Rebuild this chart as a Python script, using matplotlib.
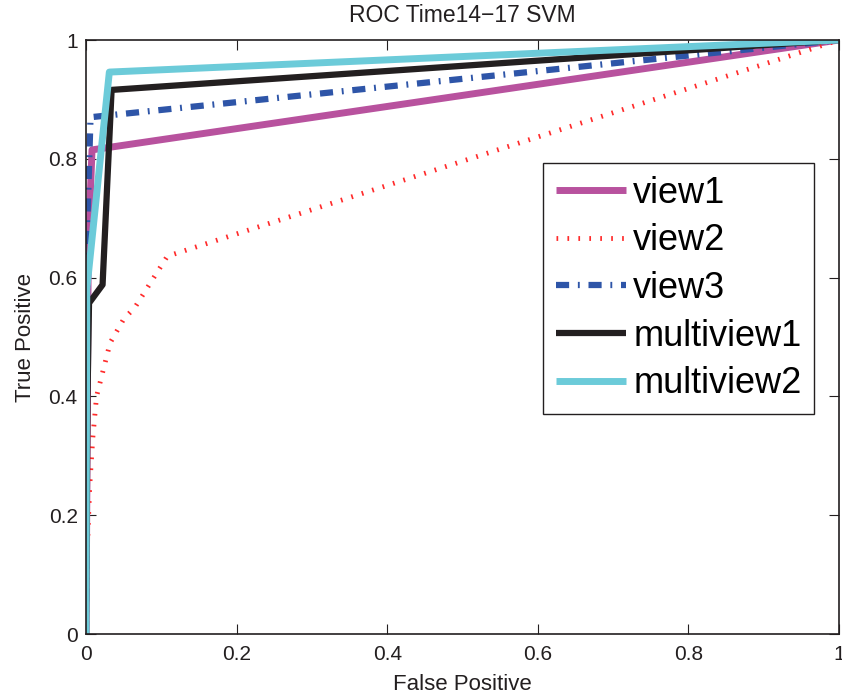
import matplotlib
matplotlib.use("Agg")
import matplotlib.pyplot as plt

plt.rcParams['font.family'] = ['Liberation Sans', 'DejaVu Sans']

title = "ROC Time14\u221217 SVM"
xlabel = "False Positive"
ylabel = "True Positive"
ticks = [0, 0.2, 0.4, 0.6, 0.8, 1]
tick_labels = ["0", "0.2", "0.4", "0.6", "0.8", "1"]

view1_fp = [0, 0.003, 0.008, 1.0]
view1_tp = [0, 0.65, 0.815, 1.0]

view2_fp = [0, 0.002, 0.005, 0.009, 0.014, 0.022, 0.032, 0.05, 0.065, 0.08, 0.108, 1.0]
view2_tp = [0, 0.15, 0.25, 0.33, 0.40, 0.44, 0.49, 0.53, 0.55, 0.58, 0.636, 1.0]

view3_fp = [0, 0.002, 0.006, 1.0]
view3_tp = [0, 0.70, 0.870, 1.0]

multi1_fp = [0, 0.002, 0.004, 0.022, 0.034, 1.0]
multi1_tp = [0, 0.40, 0.557, 0.588, 0.916, 1.0]

multi2_fp = [0, 0.001, 0.031, 1.0]
multi2_tp = [0, 0.58, 0.946, 1.0]

W, H = 842, 698
fig = plt.figure(figsize=(W / 100, H / 100), dpi=100)
ax = fig.add_axes([86 / W, 1 - 634 / H, (839 - 86) / W, (634 - 40) / H])

ax.plot(view1_fp, view1_tp, color='#b8529e', lw=5, label='view1', solid_capstyle='butt')
ax.plot(view2_fp, view2_tp, color='#ff2a2a', lw=3.5, label='view2',
        dashes=(0.35, 1.9), dash_capstyle='butt')
ax.plot(view3_fp, view3_tp, color='#2e55a8', lw=4.5, label='view3',
        dashes=(2.1, 1.4, 0.3, 1.4), dash_capstyle='butt')
ax.plot(multi1_fp, multi1_tp, color='#231f20', lw=4.5, label='multiview1', solid_capstyle='butt')
ax.plot(multi2_fp, multi2_tp, color='#6ccbd9', lw=5, label='multiview2', solid_capstyle='butt')

ax.set_xlim(0, 1)
ax.set_ylim(0, 1)
ax.set_xticks(ticks)
ax.set_xticklabels(tick_labels)
ax.set_yticks(ticks)
ax.set_yticklabels(tick_labels)
ax.tick_params(direction='in', top=True, right=True, length=7, width=0.8,
               labelsize=15, colors='#231f20')
ax.tick_params(axis='x', pad=8)
ax.tick_params(axis='y', pad=6)
for s in ax.spines.values():
    s.set_linewidth(1.2)
    s.set_color('#231f20')

ax.set_title(title, fontsize=16.5, color='#231f20', pad=13)
ax.set_xlabel(xlabel, fontsize=16, color='#231f20', labelpad=7)
ax.set_ylabel(ylabel, fontsize=16, color='#231f20', labelpad=9)

leg = ax.legend(loc='upper left', bbox_to_anchor=(0.607, 0.793), fontsize=26,
                handlelength=1.95, handletextpad=0.2, labelspacing=0.35,
                borderpad=0.35, frameon=True, fancybox=False, framealpha=1,
                edgecolor='#231f20', borderaxespad=0)
leg.get_frame().set_linewidth(1.0)

fig.savefig("out.png", dpi=100)
